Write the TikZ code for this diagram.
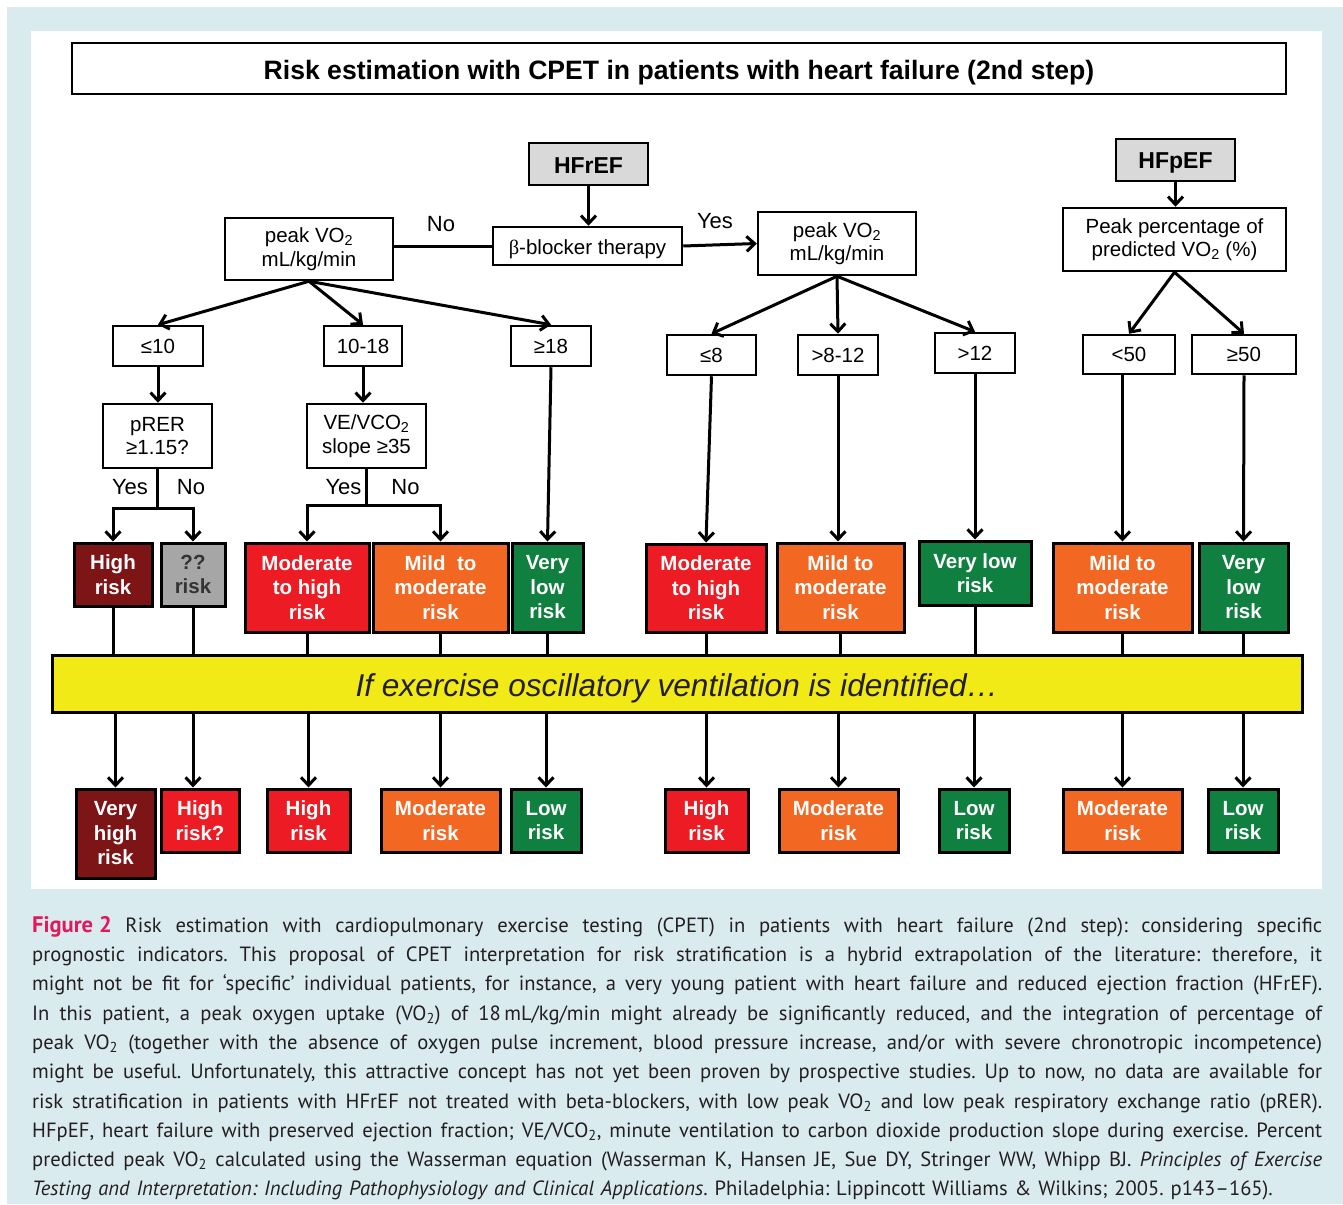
\documentclass[tikz,border=0pt]{standalone}
\usepackage{fontspec}
\setmainfont{Liberation Sans}
\newfontfamily\capfont{PT Sans}
\newfontfamily\grk{Liberation Serif}
\usetikzlibrary{arrows.meta}
\definecolor{bgblue}{RGB}{218,235,240}
\definecolor{dkred}{RGB}{125,20,22}
\definecolor{qgray}{RGB}{166,166,166}
\definecolor{qtext}{RGB}{51,51,51}
\definecolor{rred}{RGB}{237,28,36}
\definecolor{rorange}{RGB}{242,103,34}
\definecolor{rgreen}{RGB}{16,128,64}
\definecolor{ryellow}{RGB}{242,234,22}
\definecolor{hfgray}{RGB}{217,217,217}
\definecolor{figpink}{RGB}{226,24,92}
\definecolor{captext}{RGB}{35,31,32}
\newcommand\capline[1]{\leavevmode\hbox to 1290pt{\spaceskip=0.23em plus 1fil minus 0.06em\relax #1}}
\tikzset{
  wbox/.style={draw, fill=white, line width=2.5pt, inner sep=0pt, align=center,
    font=\fontsize{20.5}{23.5}\selectfont},
  hfbox/.style={wbox, fill=hfgray, font=\bfseries\fontsize{23}{26}\selectfont},
  risk/.style={draw=black, line width=3pt, text=white, inner sep=0pt, align=center,
    font=\bfseries\fontsize{20.5}{24.5}\selectfont},
  yn/.style={inner sep=0pt, font=\fontsize{22}{24}\selectfont},
  conn/.style={line width=3pt},
  arr/.style={line width=3pt, -{Straight Barb[length=8pt,width=15pt,line width=3pt]}},
}
\begin{document}
\begin{tikzpicture}[x=1pt,y=-1pt]
\path[use as bounding box] (0,0) rectangle (1343,1204);
\fill[white] (0,0) rectangle (1343,1204);
\fill[bgblue] (7,7) rectangle (1343,1204);
\fill[white] (31,31) rectangle (1322,889);

% title
\node[wbox, minimum width=1214pt, minimum height=51pt, text height=23pt, text depth=0pt,
  font=\bfseries\fontsize{26.6}{30}\selectfont] (title) at (679,68.5)
  {Risk estimation with CPET in patients with heart failure (2nd step)};

% top level
\node[hfbox, minimum width=119pt, minimum height=42pt, text height=18pt, text depth=0pt] (hfref) at (588.5,164) {HFrEF};
\node[wbox, minimum width=189pt, minimum height=38pt, text height=16pt, text depth=0pt] (beta) at (587.5,246) {{\grk β}-blocker therapy};
\node[wbox, minimum width=168pt, minimum height=62pt] (pvL) at (309,249) {peak VO\textsubscript{2}\\mL/kg/min};
\node[wbox, minimum width=158pt, minimum height=63pt] (pvR) at (837,243.5) {peak VO\textsubscript{2}\\mL/kg/min};
\node[hfbox, minimum width=119pt, minimum height=42pt, text height=17pt, text depth=0pt] (hfpef) at (1175.5,160) {HFpEF};
\node[wbox, minimum width=223pt, minimum height=63pt] (pct) at (1174.5,239.5) {Peak percentage of\\predicted VO\textsubscript{2} (\%)};

\node[yn] (lno) at (441,224) {No};
\node[yn] (lyes) at (715,221) {Yes};

% thresholds
\node[wbox, minimum width=90pt, minimum height=40pt] (le10) at (158,346) {≤10};
\node[wbox, minimum width=78pt, minimum height=40pt] (t1018) at (363,346) {10-18};
\node[wbox, minimum width=80pt, minimum height=40pt] (ge18) at (551,346) {≥18};
\node[wbox, minimum width=89pt, minimum height=40pt] (le8) at (711.5,355) {≤8};
\node[wbox, minimum width=80pt, minimum height=40pt] (g812) at (838,355) {>8-12};
\node[wbox, minimum width=80pt, minimum height=40pt] (g12) at (975,353) {>12};
\node[wbox, minimum width=92pt, minimum height=39pt] (lt50) at (1129,354.5) {<50};
\node[wbox, minimum width=104pt, minimum height=39pt] (ge50) at (1244,354.5) {≥50};

% second level
\node[wbox, minimum width=109pt, minimum height=64pt] (prer) at (157.5,436) {pRER\\≥1.15?};
\node[wbox, minimum width=119pt, minimum height=64pt] (vevco) at (366.5,436) {VE/VCO\textsubscript{2}\\slope ≥35};
\node[yn] (pyes) at (130,487) {Yes};
\node[yn] (pno) at (191,487) {No};
\node[yn] (vyes) at (343.5,487) {Yes};
\node[yn] (vno) at (405.5,487) {No};

% risk row 1
\node[risk, fill=dkred, minimum width=78pt, minimum height=63pt] (r1a) at (113,574.5) {High\\risk};
\node[risk, fill=qgray, text=qtext, minimum width=64pt, minimum height=63pt] (r1b) at (193,574.5) {??\\risk};
\node[risk, fill=rred, minimum width=124pt, minimum height=89pt] (r1c) at (307,587.5) {Moderate\\to high\\risk};
\node[risk, fill=rorange, minimum width=135pt, minimum height=89pt] (r1d) at (440.5,587.5) {Mild~ to\\moderate\\risk};
\node[risk, fill=rgreen, minimum width=71pt, minimum height=89pt] (r1e) at (547.5,587.5) {Very\\low\\risk};
\node[risk, fill=rred, minimum width=120pt, minimum height=88pt] (r1f) at (706,588) {Moderate\\to high\\risk};
\node[risk, fill=rorange, minimum width=127pt, minimum height=89pt] (r1g) at (840.5,587.5) {Mild to\\moderate\\risk};
\node[risk, fill=rgreen, minimum width=112pt, minimum height=64pt] (r1h) at (975,573) {Very low\\risk};
\node[risk, fill=rorange, minimum width=139pt, minimum height=89pt] (r1i) at (1122.5,587.5) {Mild to\\moderate\\risk};
\node[risk, fill=rgreen, minimum width=89pt, minimum height=89pt] (r1j) at (1243.5,587.5) {Very\\low\\risk};

% yellow bar
\node[draw=black, line width=3pt, fill=ryellow, inner sep=0pt, minimum width=1250pt, minimum height=57pt,
  text height=25pt, text depth=0pt,
  text=captext, font=\itshape\fontsize{31.6}{34}\selectfont] (bar) at (677,683.5)
  {If exercise oscillatory ventilation is identified…};

% risk row 2
\node[risk, fill=dkred, minimum width=79pt, minimum height=89pt] (r2a) at (115.5,833.5) {Very\\high\\risk};
\node[risk, fill=rred, minimum width=78pt, minimum height=63pt] (r2b) at (200,820.5) {High\\risk?};
\node[risk, fill=rred, minimum width=83pt, minimum height=63pt] (r2c) at (308.5,820.5) {High\\risk};
\node[risk, fill=rorange, minimum width=119pt, minimum height=63pt] (r2d) at (440.5,820.5) {Moderate\\risk};
\node[risk, fill=rgreen, minimum width=70pt, minimum height=63pt] (r2e) at (546,820.5) {Low\\risk};
\node[risk, fill=rred, minimum width=83pt, minimum height=63pt] (r2f) at (706.5,820.5) {High\\risk};
\node[risk, fill=rorange, minimum width=119pt, minimum height=63pt] (r2g) at (838.5,820.5) {Moderate\\risk};
\node[risk, fill=rgreen, minimum width=70pt, minimum height=63pt] (r2h) at (974,820.5) {Low\\risk};
\node[risk, fill=rorange, minimum width=119pt, minimum height=63pt] (r2i) at (1122.5,820.5) {Moderate\\risk};
\node[risk, fill=rgreen, minimum width=70pt, minimum height=63pt] (r2j) at (1243,820.5) {Low\\risk};

% connectors: top
\draw[arr] (hfref.south) -- (hfref.south |- beta.north);
\draw[conn] (beta.west) -- (pvL.east |- beta.west);
\draw[arr] (beta.east) -- (pvR.west);
\draw[arr] (hfpef.south) -- (hfpef.south |- pct.north);
\draw[arr] (pvL.south) -- (le10.north);
\draw[arr] (pvL.south) -- (t1018.north);
\draw[arr] (pvL.south) -- (ge18.north);
\draw[arr] (pvR.south) -- (le8.north);
\draw[arr] (pvR.south) -- (g812.north);
\draw[arr] (pvR.south) -- (g12.north);
\draw[arr] (pct.south) -- (lt50.north);
\draw[arr] (pct.south) -- (ge50.north);

\draw[arr] (le10.south) -- (le10.south |- prer.north);
\draw[arr] (t1018.south) -- (t1018.south |- vevco.north);

\coordinate (pj) at (157.5,508);
\coordinate (vj) at (366.5,505);
\draw[conn] (prer.south) -- (pj);
\draw[arr] (pj) -| (r1a.north);
\draw[arr] (pj) -| (r1b.north);
\draw[conn] (vevco.south) -- (vj);
\draw[arr] (vj) -| (r1c.north);
\draw[arr] (vj) -| (r1d.north);

\draw[arr] (ge18.south) -- (r1e.north);
\draw[arr] (le8.south) -- (r1f.north);
\draw[arr] (g812.south) -- (g812.south |- r1g.north);
\draw[arr] (g12.south) -- (g12.south |- r1h.north);
\draw[arr] (r1i.north |- lt50.south) -- (r1i.north);
\draw[arr] (ge50.south) -- (r1j.north);

% into the bar
\foreach \n in {r1a,r1b,r1c,r1d,r1e,r1f,r1g,r1h,r1i,r1j}
  \draw[conn] (\n.south) -- (\n.south |- bar.north);
% out of the bar
\foreach \n in {r2a,r2c,r2d,r2e,r2f,r2g,r2h,r2i,r2j}
  \draw[arr] (\n.north |- bar.south) -- (\n.north);
\draw[arr] (r1b.south |- bar.south) -- (r1b.south |- r2b.north);

% caption
\node[anchor=north west, inner sep=0pt, text width=1290pt, align=left, text=captext,
  font=\capfont\frenchspacing\fontsize{20.6}{29.3}\selectfont] (cap) at (32,916) {%
\capline{{\color{figpink}\bfseries\fontsize{22.5}{29.3}\selectfont Figure\hspace{0.26em}2} Risk estimation with cardiopulmonary exercise testing (CPET) in patients with heart failure (2nd step): considering specific}\\
\capline{prognostic indicators. This proposal of CPET interpretation for risk stratification is a hybrid extrapolation of the literature: therefore, it}\\
\capline{might not be fit for ‘specific’ individual patients, for instance, a very young patient with heart failure and reduced ejection fraction (HFrEF).}\\
\capline{In this patient, a peak oxygen uptake (VO\textsubscript{2}) of 18\,mL/kg/min might already be significantly reduced, and the integration of percentage of}\\
\capline{peak VO\textsubscript{2} (together with the absence of oxygen pulse increment, blood pressure increase, and/or with severe chronotropic incompetence)}\\
\capline{might be useful. Unfortunately, this attractive concept has not yet been proven by prospective studies. Up to now, no data are available for}\\
\capline{risk stratification in patients with HFrEF not treated with beta-blockers, with low peak VO\textsubscript{2} and low peak respiratory exchange ratio (pRER).}\\
\capline{HFpEF, heart failure with preserved ejection fraction; VE/VCO\textsubscript{2}, minute ventilation to carbon dioxide production slope during exercise. Percent}\\
\capline{predicted peak VO\textsubscript{2} calculated using the Wasserman equation (Wasserman K, Hansen JE, Sue DY, Stringer WW, Whipp BJ. \textit{Principles of Exercise}}\\
\textit{Testing and Interpretation: Including Pathophysiology and Clinical Applications}. Philadelphia: Lippincott Williams \& Wilkins; 2005. p143–165).};
\end{tikzpicture}
\end{document}
